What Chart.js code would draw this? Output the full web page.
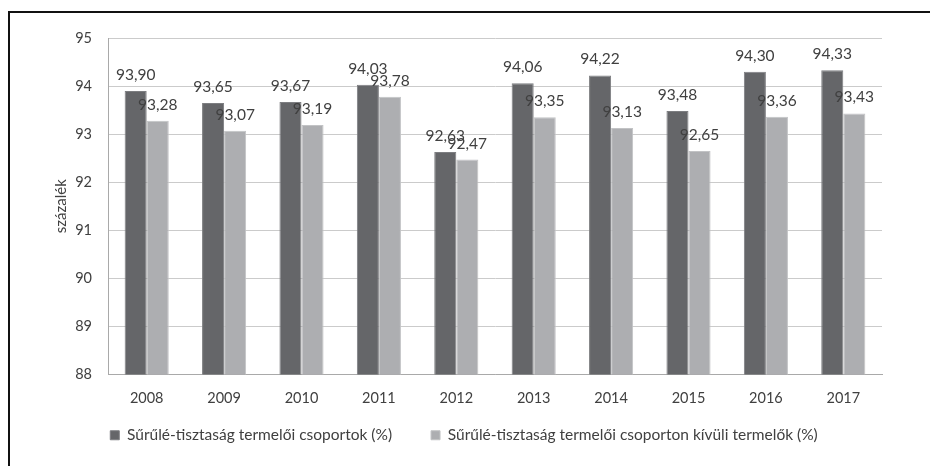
<!DOCTYPE html>
<html>
<head>
<meta charset="utf-8">
<script src="https://cdn.jsdelivr.net/npm/chart.js@4.4.1/dist/chart.umd.min.js"></script>
<style>
  html, body { margin: 0; padding: 0; background: #fff; }
  #wrap { width: 930px; height: 466px; position: relative; }
</style>
</head>
<body>
<div id="wrap"><canvas id="c" width="930" height="466"></canvas></div>
<script>
const years = ['2008', '2009', '2010', '2011', '2012', '2013', '2014', '2015', '2016', '2017'];
const groupValues = [93.90, 93.65, 93.67, 94.03, 92.63, 94.06, 94.22, 93.48, 94.30, 94.33];
const outsideValues = [93.28, 93.07, 93.19, 93.78, 92.47, 93.35, 93.13, 92.65, 93.36, 93.43];
const seriesNames = ['Sűrűlé-tisztaság termelői csoportok (%)', 'Sűrűlé-tisztaság termelői csoporton kívüli termelők (%)'];
const yTicks = [88, 89, 90, 91, 92, 93, 94, 95];
const yTitle = 'százalék';

const FONT = 'Lato, "Open Sans", sans-serif';
const TXT = '#404040';

const framePlugin = {
  id: 'frame',
  beforeDraw(chart) {
    const ctx = chart.ctx;
    ctx.save();
    ctx.fillStyle = '#fff';
    ctx.fillRect(0, 0, chart.width, chart.height);
    ctx.strokeStyle = '#111';
    ctx.lineWidth = 2;
    ctx.beginPath();
    ctx.moveTo(9, chart.height);
    ctx.lineTo(9, 12);
    ctx.lineTo(chart.width, 12);
    ctx.stroke();
    ctx.restore();
  },
  afterLayout(chart) {
    // let the x tick labels extend below the (thin) axis box without being clipped
    const x = chart.scales.x;
    x.bottom = x.top + 40;
  }
};

const valueLabels = {
  id: 'valueLabels',
  afterDatasetsDraw(chart) {
    const ctx = chart.ctx;
    ctx.save();
    ctx.font = '15.5px ' + FONT;
    ctx.fillStyle = TXT;
    ctx.textAlign = 'center';
    ctx.textBaseline = 'alphabetic';
    chart.data.datasets.forEach((ds, i) => {
      const meta = chart.getDatasetMeta(i);
      meta.data.forEach((bar, j) => {
        const v = ds.data[j];
        ctx.fillText(v.toFixed(2).replace('.', ','), bar.x, bar.y - 11);
      });
    });
    ctx.restore();
  }
};

new Chart(document.getElementById('c'), {
  type: 'bar',
  data: {
    labels: years,
    datasets: [
      { label: seriesNames[0], data: groupValues, backgroundColor: '#656669', borderColor: '#7d7e81', borderWidth: 1,
        categoryPercentage: 0.57, barPercentage: 1.0 },
      { label: seriesNames[1], data: outsideValues, backgroundColor: '#adaeb1', borderColor: '#c2c3c5', borderWidth: 1,
        categoryPercentage: 0.57, barPercentage: 1.0 }
    ]
  },
  options: {
    responsive: false,
    animation: false,
    devicePixelRatio: 1,
    layout: { padding: { left: 46, right: 48, top: 38, bottom: 13 } },
    plugins: {
      legend: {
        position: 'bottom',
        labels: {
          boxWidth: 9, boxHeight: 9, padding: 39,
          color: TXT,
          font: { family: FONT, size: 15.5 }
        }
      },
      tooltip: { enabled: false }
    },
    scales: {
      x: {
        grid: { display: false, drawTicks: false },
        border: { color: '#a9a9a9', width: 1 },
        ticks: { color: TXT, font: { family: FONT, size: 14.5 }, padding: 15 },
        afterFit(scale) { scale.height = 14; }
      },
      y: {
        min: 88, max: 95,
        afterBuildTicks(scale) { scale.ticks = yTicks.map(v => ({ value: v })); },
        grid: { color: '#cbcbcb', lineWidth: 1, drawTicks: false },
        border: { color: '#a9a9a9', width: 1 },
        ticks: { color: TXT, font: { family: FONT, size: 14.5 }, padding: 16 },
        title: { display: true, text: yTitle, color: TXT, font: { family: FONT, size: 15 }, padding: { top: 6, bottom: 0 } },
        afterFit(scale) { scale.width = 62; }
      }
    }
  },
  plugins: [framePlugin, valueLabels]
});
</script>
</body>
</html>
